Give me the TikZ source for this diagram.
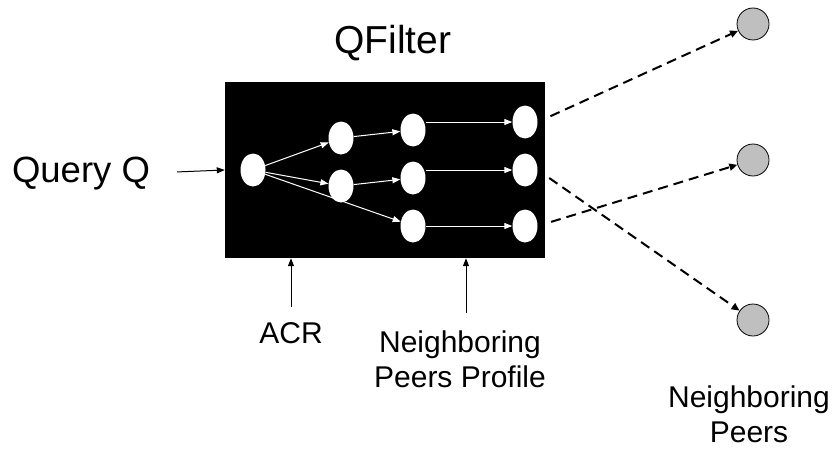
\documentclass[tikz,border=0pt]{standalone}
\usepackage{fontspec}
\setmainfont{Liberation Sans}
\usetikzlibrary{arrows.meta,shapes.geometric}

\tikzset{
    cell/.style={ellipse, fill=white, minimum width=25pt, minimum height=33pt, inner sep=0pt},
    peer/.style={circle, draw=black, fill=gray!50, minimum size=32pt, inner sep=0pt, line width=0.8pt},
    flow/.style={white, line width=1pt, -{Triangle[length=8pt,width=6pt]}},
    feed/.style={black, line width=1pt, -{Triangle[length=8pt,width=6pt]}},
    send/.style={black, line width=2pt, dash pattern=on 10pt off 6pt, -{Triangle[length=8pt,width=7pt]}, shorten <=14pt},
    label/.style={inner sep=0pt, align=center, font=\fontsize{30}{35}\selectfont}
}

\begin{document}
\begin{tikzpicture}[x=1pt, y=-1pt]
    \useasboundingbox (0,0) rectangle (837,452);
    % filter box
    \node [fill=black, minimum width=320pt, minimum height=176pt, inner sep=0pt] (box) at (385,170) {};
    \node [font=\fontsize{39}{44}\selectfont, anchor=base, inner sep=0pt] (title) at (393,54) {QFilter};

    \node [cell] (c0)  at (253,170) {};
    \node [cell] (c1a) at (341,138) {};
    \node [cell] (c1b) at (341,186) {};
    \node [cell] (c2a) at (413,130) {};
    \node [cell] (c2b) at (413,178) {};
    \node [cell] (c2c) at (413,226) {};
    \node [cell] (c3a) at (525,122) {};
    \node [cell] (c3b) at (525,170) {};
    \node [cell] (c3c) at (525,226) {};

    \draw   [flow] (c0) -- (c1a);
    \draw   [flow] (c0) -- (c1b);
    \draw   [flow] (c0) -- (c2c);
    \draw   [flow] (c1a) -- (c2a);
    \draw   [flow] (c1b) -- (c2b);
    \draw   [flow] (c2a.east |- c3a) -- (c3a);
    \draw   [flow] (c2b.east |- c3b) -- (c3b);
    \draw   [flow] (c2c) -- (c3c);

    % inputs
    \node [font=\fontsize{36.5}{42}\selectfont, anchor=base, inner sep=0pt] (query) at (81,182) {Query Q};
    \node [label, anchor=base] (acr) at (291,343) {ACR};
    \node [label, anchor=north] (profile) at (460,331) {Neighboring\\Peers Profile};

    \draw   [feed, shorten <=27pt] (query.east) -- (box.west);
    \draw   [feed, shorten <=15pt] (acr.north) -- (acr.north |- box.south);
    \draw   [feed, shorten <=18pt] ([xshift=6pt]profile.north) -- ([xshift=6pt]profile.north |- box.south);

    % peers
    \node [peer] (p1) at (753,24) {};
    \node [peer] (p2) at (753,160) {};
    \node [peer] (p3) at (753,320) {};
    \node [label, anchor=north] (peers) at (749,386) {Neighboring\\Peers};

    \draw   [send] (c3a.east) -- (p1);
    \draw   [send] (c3b.east) -- (p3);
    \draw   [send] (c3c.east) -- (p2);
\end{tikzpicture}
\end{document}
